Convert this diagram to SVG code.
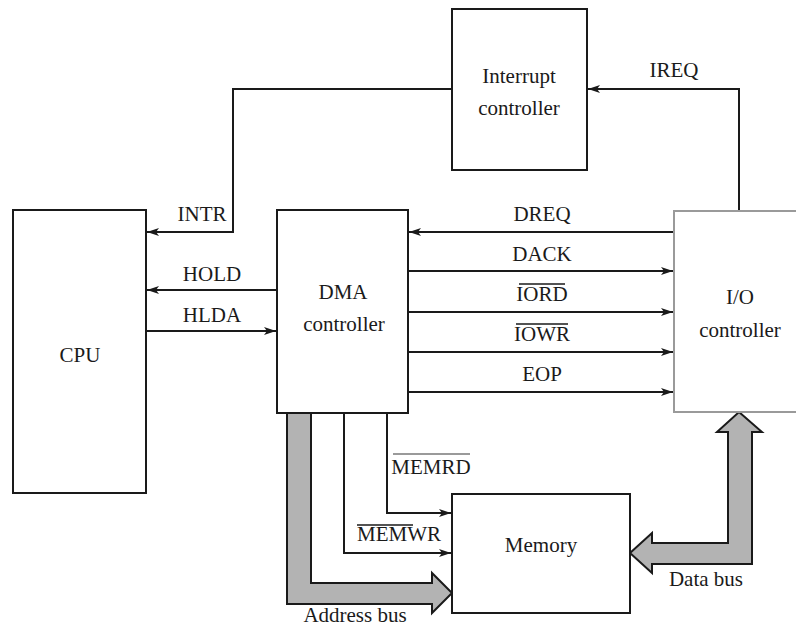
<svg xmlns="http://www.w3.org/2000/svg" width="796" height="626" viewBox="0 0 796 626">
<style>
.box{fill:#fff;stroke:#1a1a1a;stroke-width:2}
.io{fill:#fff;stroke:#9a9a9a;stroke-width:2}
.ln{fill:none;stroke:#1a1a1a;stroke-width:2}
.bus{fill:#b3b3b3;stroke:#1a1a1a;stroke-width:2;stroke-linejoin:miter}
.t{font-family:"Liberation Serif","Times New Roman",serif;font-size:21px;fill:#1a1a1a;text-anchor:middle}
.ov{stroke:#1a1a1a;stroke-width:1.5}
</style>
<defs>
<marker id="ah" markerWidth="14" markerHeight="10" refX="13" refY="5" orient="auto" markerUnits="userSpaceOnUse">
<path d="M1,1 L13,5 L1,9 L4,5 Z" fill="#1a1a1a"/>
</marker>
</defs>
<rect width="796" height="626" fill="#fff"/>

<g id="connectors">
<polyline class="ln" points="452,89 233,89 233,232 147,232" marker-end="url(#ah)"/>
<polyline class="ln" points="739,211 739,89 588,89" marker-end="url(#ah)"/>
<line class="ln" x1="277" y1="290" x2="147" y2="290" marker-end="url(#ah)"/>
<line class="ln" x1="146" y1="331" x2="276" y2="331" marker-end="url(#ah)"/>
<line class="ln" x1="674" y1="232" x2="409" y2="232" marker-end="url(#ah)"/>
<line class="ln" x1="408" y1="271" x2="673" y2="271" marker-end="url(#ah)"/>
<line class="ln" x1="408" y1="312" x2="673" y2="312" marker-end="url(#ah)"/>
<line class="ln" x1="408" y1="352" x2="673" y2="352" marker-end="url(#ah)"/>
<line class="ln" x1="408" y1="392" x2="673" y2="392" marker-end="url(#ah)"/>
<polyline class="ln" points="387,413 387,513 451,513" marker-end="url(#ah)"/>
<polyline class="ln" points="344,413 344,553 451,553" marker-end="url(#ah)"/>
<polygon class="bus" points="287,413 287,604 432,604 432,613 452,593 432,573 432,583 311,583 311,413"/>
<polygon class="bus" points="739,412 762,432 752,432 752,564 652,564 652,573 630,553 652,533 652,543 728,543 728,432 717,432"/>
<text class="t" x="674" y="77">IREQ</text>
<text class="t" x="202" y="221">INTR</text>
<text class="t" x="212" y="281">HOLD</text>
<text class="t" x="212" y="322">HLDA</text>
<text class="t" x="542" y="221">DREQ</text>
<text class="t" x="542" y="261">DACK</text>
<text class="t" x="542" y="301">IORD</text>
<line class="ov" x1="519" y1="284" x2="565" y2="284"/>
<text class="t" x="542" y="341">IOWR</text>
<line class="ov" x1="516" y1="324" x2="568" y2="324"/>
<text class="t" x="542" y="381">EOP</text>
<text class="t" x="431" y="474">MEMRD</text>
<line x1="393" y1="454" x2="470" y2="454" stroke="#9a9a9a" stroke-width="2"/>
<text class="t" x="399" y="541">MEMWR</text>
<line class="ov" x1="357" y1="525" x2="413" y2="525"/>
<text class="t" x="355" y="622">Address bus</text>
<text class="t" x="706" y="586">Data bus</text>
</g>

<g id="interrupt">
<rect class="box" x="452" y="9" width="135" height="161"/>
<text class="t" x="519" y="83">Interrupt</text>
<text class="t" x="519" y="115">controller</text>
</g>
<g id="cpu">
<rect class="box" x="13" y="210" width="133" height="283"/>
<text class="t" x="80" y="362">CPU</text>
</g>
<g id="dma">
<rect class="box" x="277" y="210" width="131" height="203"/>
<text class="t" x="343" y="299">DMA</text>
<text class="t" x="344" y="331">controller</text>
</g>
<g id="io">
<rect class="io" x="674" y="211" width="140" height="201"/>
<text class="t" x="740" y="304">I/O</text>
<text class="t" x="740" y="337">controller</text>
</g>
<g id="memory">
<rect class="box" x="452" y="494" width="178" height="119"/>
<text class="t" x="541" y="552">Memory</text>
</g>
</svg>
